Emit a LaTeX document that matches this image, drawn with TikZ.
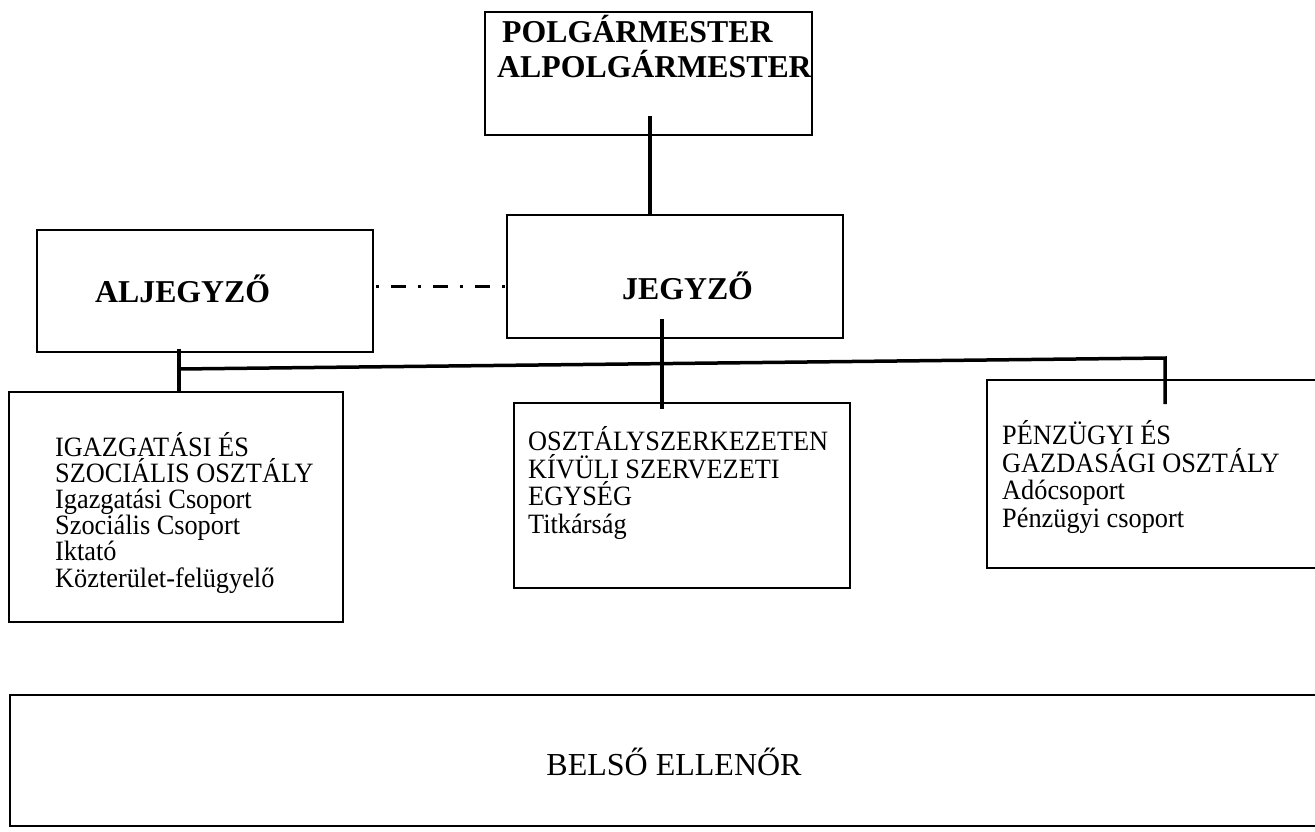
\documentclass[tikz,border=0pt]{standalone}
\usepackage{fontspec}
\setmainfont{Liberation Serif}
\newfontfamily\deptfont{Liberation Serif}[FakeStretch=0.94]
\usetikzlibrary{calc}
\newcommand{\drawlink}{\draw[line width=3.5pt]}

\begin{document}
\begin{tikzpicture}[x=1pt, y=-1pt,
    unit/.style={draw, line width=2pt, inner sep=0pt},
    lbl/.style={inner sep=0pt, align=left, anchor=base west},
    head/.style={lbl, font=\fontsize{31.8}{35}\selectfont\bfseries},
    dept/.style={lbl, font=\deptfont\fontsize{28}{#1}\selectfont},
    dept/.default=26.2]
    \useasboundingbox (0,0) rectangle (1315,831);
    \clip (0,0) rectangle (1315,831);

    % Draw boxes
    \node[unit, minimum width=327pt, minimum height=123pt] (polg) at (648.5, 73.5) {};
    \node[unit, minimum width=336pt, minimum height=122pt] (alj) at (205, 291) {};
    \node[unit, minimum width=336pt, minimum height=123pt] (jeg) at (675, 276.5) {};
    \node[unit, minimum width=334pt, minimum height=230pt] (ig) at (176, 507) {};
    \node[unit, minimum width=336pt, minimum height=185pt] (osz) at (682, 495.5) {};
    \node[unit, minimum width=350pt, minimum height=188pt] (penz) at (1162, 474) {};
    \node[unit, minimum width=1330pt, minimum height=131pt] (bels) at (675, 760.5) {};

    % Draw texts (base = last line)
    \node[head] (polgtext) at (497, 77) {\hspace*{5pt}POLGÁRMESTER\\ALPOLGÁRMESTER};
    \node[head] (aljtext) at (95, 302) {ALJEGYZŐ};
    \node[head] (jegtext) at (622, 299) {JEGYZŐ};
    \node[dept] (igtext) at (55, 587) {IGAZGATÁSI ÉS\\SZOCIÁLIS OSZTÁLY\\Igazgatási Csoport\\Szociális Csoport\\Iktató\\Közterület-felügyelő};
    \node[dept=27.5] (osztext) at (528, 533) {OSZTÁLYSZERKEZETEN\\KÍVÜLI SZERVEZETI\\EGYSÉG\\Titkárság};
    \node[dept=27.4] (penztext) at (1002, 527) {PÉNZÜGYI ÉS\\GAZDASÁGI OSZTÁLY\\Adócsoport\\Pénzügyi csoport};
    \node[lbl, anchor=base, font=\fontsize{32}{36}\selectfont] (belstext) at (674, 775) {BELSŐ ELLENŐR};

    % Draw links
    \coordinate (busL) at (179, 369);
    \coordinate (busR) at (1165, 358);
    \drawlink ([xshift=1.5pt]polg.south) ++(0,-20) -- ([xshift=1.5pt]polg.south |- jeg.north);
    \draw[line width=3pt, dash pattern=on 3pt off 12pt on 15pt off 12pt, dash phase=40pt]
        ([yshift=5pt]alj.east) -- ([yshift=5pt]alj.east -| jeg.west);
    \drawlink (busL |- alj.south) ++(0,-4) -- (busL |- ig.north);
    \drawlink (busL) -- (busR) -- (busR |- penz.north) -- ++(0,25);
    \drawlink ([xshift=-13pt]jeg.south) ++(0,-20) -- ([xshift=-13pt]jeg.south |- osz.north) -- ++(0,7);
\end{tikzpicture}
\end{document}
